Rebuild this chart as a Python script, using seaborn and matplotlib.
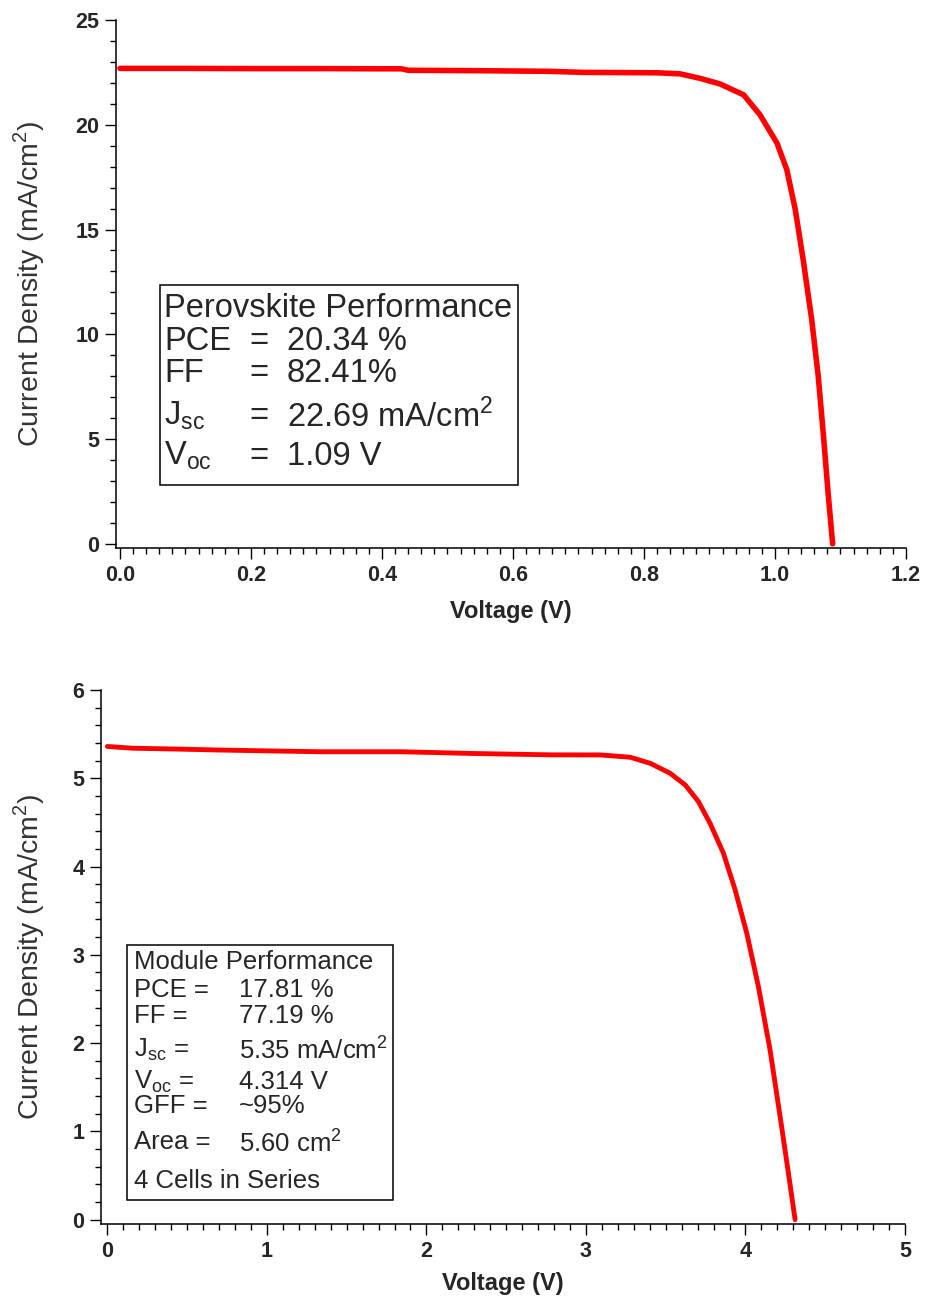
"""Perovskite 单电池与组件 J-V 曲线"""

import numpy as np
import pandas as pd
import matplotlib.pyplot as plt
import seaborn as sns
from matplotlib.patches import Rectangle
from matplotlib.ticker import MultipleLocator

# 单电池 J-V 数据 (V, mA/cm2)
cell_voltage = [0.0, 0.10, 0.20, 0.30, 0.43, 0.44, 0.55, 0.656, 0.707, 0.82, 0.855,
                0.885, 0.916, 0.952, 0.977, 1.003, 1.018, 1.031, 1.043, 1.056, 1.066,
                1.074, 1.081, 1.088]
cell_current = [22.69, 22.69, 22.68, 22.68, 22.67, 22.60, 22.58, 22.55, 22.50, 22.48, 22.43,
                22.22, 21.95, 21.43, 20.48, 19.13, 17.86, 15.95, 13.57, 10.71, 8.01,
                5.16, 2.46, 0.0]

# 组件 J-V 数据 (V, mA/cm2)
module_voltage = [0.0, 0.16, 0.45, 0.69, 1.0, 1.34, 1.84, 2.3, 2.78, 3.089, 3.277, 3.402,
                  3.527, 3.622, 3.705, 3.778, 3.862, 3.935, 4.008, 4.081, 4.154, 4.217,
                  4.269, 4.311]
module_current = [5.36, 5.34, 5.33, 5.32, 5.31, 5.30, 5.30, 5.28, 5.265, 5.264, 5.238, 5.17,
                  5.057, 4.925, 4.736, 4.49, 4.15, 3.736, 3.246, 2.64, 1.925, 1.17,
                  0.53, 0.0]

# 性能参数文字
cell_title = 'Perovskite Performance'
cell_keys = ['PCE', 'FF', r'J$_{\mathregular{sc}}$', r'V$_{\mathregular{oc}}$']
cell_vals = ['20.34 %', '82.41%', r'22.69 mA/cm$^{\mathregular{2}}$', '1.09 V']

module_title = 'Module Performance'
module_keys = ['PCE =', 'FF =', r'J$_{\mathregular{sc}}$ =', r'V$_{\mathregular{oc}}$ =', 'GFF =', 'Area =']
module_vals = ['17.81 %', '77.19 %', r'5.35 mA/cm$^{\mathregular{2}}$', '4.314 V', '~95%',
               r'5.60 cm$^{\mathregular{2}}$']
module_note = '4 Cells in Series'

df_cell = pd.DataFrame({'V': cell_voltage, 'J': cell_current})
df_module = pd.DataFrame({'V': module_voltage, 'J': module_current})

sns.set_style('ticks')
plt.rcParams['font.family'] = ['Liberation Sans', 'DejaVu Sans']
plt.rcParams['mathtext.fontset'] = 'custom'
plt.rcParams['mathtext.rm'] = 'Liberation Sans'

YLABEL = r'Current Density (mA/cm$^{\mathregular{2}}$)'


def style_axis(ax, xmaj, xmin, ymaj, ymin):
    sns.despine(ax=ax)
    for side in ['left', 'bottom']:
        ax.spines[side].set_linewidth(1.1)
        ax.spines[side].set_color('black')
    ax.xaxis.set_major_locator(MultipleLocator(xmaj))
    ax.xaxis.set_minor_locator(MultipleLocator(xmin))
    ax.yaxis.set_major_locator(MultipleLocator(ymaj))
    ax.yaxis.set_minor_locator(MultipleLocator(ymin))
    ax.tick_params(which='major', direction='out', length=8, width=1.0, color='black',
                   labelsize=15.5, pad=4)
    ax.tick_params(which='minor', direction='out', length=4.5, width=1.0, color='black')
    for lab in ax.get_xticklabels() + ax.get_yticklabels():
        lab.set_fontweight('bold')


fig = plt.figure(figsize=(9.3, 13.07), dpi=100)

# 上图：单电池
ax1 = fig.add_axes([0.1247, 0.5807, 0.8495, 0.4040])
sns.lineplot(data=df_cell, x='V', y='J', ax=ax1, color='#ff0000', linewidth=4.0,
             sort=False, estimator=None)
ax1.set_xlim(-0.006, 1.2)
ax1.set_ylim(-0.2, 25)
ax1.xaxis.set_major_formatter(plt.FuncFormatter(lambda v, p: f'{v:.1f}'))
style_axis(ax1, 0.2, 0.02, 5, 1)
ax1.set_xlabel('Voltage (V)', fontsize=17, fontweight='bold')
ax1.set_ylabel(YLABEL, fontsize=20.5, color='#333333')
ax1.xaxis.set_label_coords(0.5, -0.098)
ax1.yaxis.set_label_coords(-0.087, 0.5)

ax1.add_patch(Rectangle((0.0557, 0.119), 0.4532, 0.379, transform=ax1.transAxes,
                        fill=False, edgecolor='black', linewidth=1.1))
ax1.text(0.061, 0.4545, cell_title, transform=ax1.transAxes, fontsize=23.5, va='center')
rows_y = [0.392, 0.331, 0.250, 0.174]
for k, v, y in zip(cell_keys, cell_vals, rows_y):
    ax1.text(0.061, y, k, transform=ax1.transAxes, fontsize=23.5, va='center')
    ax1.text(0.169, y, '=', transform=ax1.transAxes, fontsize=23.5, va='center')
    ax1.text(0.2165, y, v, transform=ax1.transAxes, fontsize=23.5, va='center')

# 下图：组件
ax2 = fig.add_axes([0.1086, 0.0635, 0.8645, 0.4086])
sns.lineplot(data=df_module, x='V', y='J', ax=ax2, color='#ff0000', linewidth=3.5,
             sort=False, estimator=None)
ax2.set_xlim(-0.04, 5)
ax2.set_ylim(-0.05, 6)
style_axis(ax2, 1, 0.1, 1, 0.2)
ax2.set_xlabel('Voltage (V)', fontsize=17, fontweight='bold')
ax2.set_ylabel(YLABEL, fontsize=20.5, color='#333333')
ax2.xaxis.set_label_coords(0.5, -0.090)
ax2.yaxis.set_label_coords(-0.067, 0.5)

ax2.add_patch(Rectangle((0.0323, 0.045), 0.3307, 0.4775, transform=ax2.transAxes,
                        fill=False, edgecolor='black', linewidth=1.1))
ax2.text(0.041, 0.490, module_title, transform=ax2.transAxes, fontsize=18.5, va='center')
rows_y = [0.438, 0.390, 0.326, 0.266, 0.221, 0.153]
for k, v, y in zip(module_keys, module_vals, rows_y):
    ax2.text(0.041, y, k, transform=ax2.transAxes, fontsize=18.5, va='center')
    ax2.text(0.172, y, v, transform=ax2.transAxes, fontsize=18.5, va='center')
ax2.text(0.041, 0.081, module_note, transform=ax2.transAxes, fontsize=18.5, va='center')

fig.savefig('out.png', dpi=100)
